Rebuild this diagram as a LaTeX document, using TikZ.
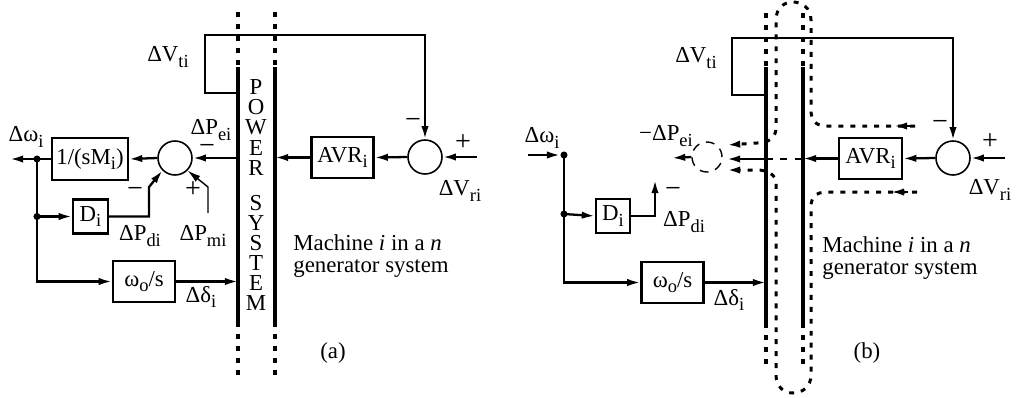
\documentclass[tikz,border=0pt]{standalone}
\usepackage{fontspec}
\setmainfont{Liberation Serif}
\usetikzlibrary{arrows.meta,calc}
\newcommand{\sbs}[1]{\raisebox{-3pt}{\fontsize{10.5}{10.5}\selectfont #1}}
\begin{document}
\begin{tikzpicture}[x=0.02cm,y=-0.02cm,
  font=\fontsize{13}{12}\selectfont,
  lw/.style={line width=1.3pt},
  arr/.style={lw,-{Latex[length=7.5pt,width=4.2pt]}},
  thinarr/.style={line width=0.8pt,-{Latex[length=7.5pt,width=4.2pt]}},
  blk/.style={draw,line width=1.3pt,inner sep=0pt,minimum height=0.82cm},
  sumc/.style={draw,circle,line width=0.9pt,inner sep=0pt,minimum size=0.68cm},
  dsum/.style={draw,circle,line width=0.8pt,dash pattern=on 5pt off 4pt,inner sep=0pt,minimum size=0.6cm},
  dotn/.style={circle,fill,inner sep=0pt,minimum size=4pt},
  lbl/.style={inner sep=0pt},
  sgn/.style={inner sep=0pt,font=\fontsize{16}{16}\selectfont},
  bar/.style={line width=2.5pt},
  dotbar/.style={line width=1.9pt,dash pattern=on 2.8pt off 4pt},
  loopst/.style={line width=1.7pt,dash pattern=on 2.8pt off 4pt},
  hdash/.style={line width=1.5pt,dash pattern=on 4pt off 4.2pt},
  vert/.style={lbl,align=center,font=\fontsize{13}{11.4}\selectfont},
  mach/.style={lbl,align=left,anchor=west,font=\fontsize{13}{12}\selectfont},
]
\useasboundingbox (0,0) rectangle (1018,397);

% ================= (a) =================
\node[blk,minimum width=1.52cm,minimum height=0.84cm] (smA) at (90,159) {1/(sM\sbs{i})};
\node[blk,minimum width=0.70cm,minimum height=0.68cm] (dA) at (90.5,216.5) {D\sbs{i}};
\node[blk,minimum width=1.24cm] (wA) at (144,281.5) {ω\sbs{o}/s};
\node[blk,minimum width=1.24cm] (avrA) at (342.5,157.5) {AVR\sbs{i}};
\node[sumc] (s1A) at (175,158) {};
\node[sumc] (s2A) at (425,157) {};
\node[dotn] (jA1) at (37,159) {};
\node[dotn] (jA2) at (37,216.5) {};

\coordinate (aLt) at (238,67);  \coordinate (aLb) at (238,322);
\coordinate (aRt) at (275,67);  \coordinate (aRb) at (275,322);
\coordinate (aLtop) at (238,12); \coordinate (aLbot) at (238,378);
\coordinate (aRtop) at (275,12); \coordinate (aRbot) at (275,378);
\draw[bar] (aLt) -- (aLb);
\draw[bar] (aRt) -- (aRb);
\draw[dotbar] (aLtop) -- (aLt);
\draw[dotbar] (aLb) -- (aLbot);
\draw[dotbar] (aRtop) -- (aRt);
\draw[dotbar] (aRb) -- (aRbot);

\coordinate (outA) at (10,159);
\coordinate (kdA) at (149,187);
\coordinate (pmA) at (208,213);
\coordinate (kmA) at (208,187);
\coordinate (vtA1) at (205,93);
\coordinate (vtA2) at (205,35);
\coordinate (vrA) at (477,157);

\draw[arr] (s1A.west) -- (smA.east);
\draw[arr] (smA.west) -- (outA);
\draw[arr] (jA1.center) |- (wA.west);
\draw[arr] (jA2.center) -- (dA.west);
\draw[arr] (dA.east) -| (kdA) -- (s1A.225);
\draw[thinarr] (pmA) -- (kmA) -- (s1A.-45);
\draw[arr] (s1A.east -| aLt) -- (s1A.east);
\draw[arr] (wA.east) -- (wA.east -| aLt);
\draw[arr] (vtA1 -| aLt) -- (vtA1) -- (vtA2) -| (s2A.north);
\draw[arr] (s2A.west) -- (avrA.east);
\draw[arr] (avrA.west) -- (avrA.west -| aRt);
\draw[arr] (vrA) -- (s2A.east);

\node[vert] (pwA) at (256,127.5) {P\\O\\W\\E\\R};
\node[vert] (syA) at (256,253) {S\\Y\\S\\T\\E\\M};

\node[lbl] (lvtA) at (168,57) {ΔV\sbs{ti}};
\node[lbl] (lwA) at (26,137) {Δω\sbs{i}};
\node[lbl] (lpeA) at (211,130) {ΔP\sbs{ei}};
\node[sgn] (mpeA) at (207,149) {−};
\node[sgn] (mpdA) at (135,192) {−};
\node[sgn] (ppmA) at (193,190) {+};
\node[lbl] (lpdA) at (140,236) {ΔP\sbs{di}};
\node[lbl] (lpmA) at (203,236) {ΔP\sbs{mi}};
\node[lbl] (ldA) at (201,297) {Δδ\sbs{i}};
\node[sgn] (mvA) at (413,123) {−};
\node[sgn] (pvA) at (463,143) {+};
\node[lbl] (lvrA) at (460,191) {ΔV\sbs{ri}};
\node[mach] (machA) at (293,256) {Machine \textit{i} in a \textit{n}\\generator system};
\node[lbl] (capA) at (333,353) {(a)};

% ================= (b) =================
\node[blk,minimum width=0.68cm,minimum height=0.68cm] (dB) at (613,216) {D\sbs{i}};
\node[blk,minimum width=1.24cm] (wB) at (672.5,282.5) {ω\sbs{o}/s};
\node[blk,minimum width=1.26cm] (avrB) at (870.5,158.5) {AVR\sbs{i}};
\node[sumc] (s2B) at (953,158) {};
\node[dsum] (s1B) at (707,157) {};
\node[dotn] (jB1) at (564,155) {};
\node[dotn] (jB2) at (564,214) {};

\coordinate (bLt) at (766,67);  \coordinate (bLb) at (766,323);
\coordinate (bRt) at (803,67);  \coordinate (bRb) at (803,323);
\coordinate (bLtop) at (766,13); \coordinate (bLbot) at (766,365);
\coordinate (bRtop) at (803,13); \coordinate (bRbot) at (803,365);
\draw[bar] (bLt) -- (bLb);
\draw[bar] (bRt) -- (bRb);
\draw[dotbar] (bLtop) -- (bLt);
\draw[dotbar] (bLb) -- (bLbot);
\draw[dotbar] (bRtop) -- (bRt);
\draw[dotbar] (bRb) -- (bRbot);

\coordinate (inB) at (528,155);
\coordinate (pdB) at (655,180);
\coordinate (vtB1) at (732,95);
\coordinate (vtB2) at (732,38);
\coordinate (vrB) at (1005,158);
\coordinate (pe1) at (727,145);
\coordinate (pe2) at (727,159);
\coordinate (pe3) at (727,170);
\coordinate (peo) at (672,158);

\draw[arr] (inB) -- (jB1);
\draw[arr] (jB1.center) |- (wB.west);
\draw[arr] (jB2.center) -- (dB.west);
\draw[arr] (dB.east) -| (pdB);
\draw[arr] (wB.east) -- (wB.east -| bLt);
\draw[arr] (vtB1 -| bLt) -- (vtB1) -- (vtB2) -| (s2B.north);
\draw[arr] (s2B.west) -- (avrB.east);
\draw[arr] (avrB.west) -- (avrB.west -| bRt);
\draw[arr] (vrB) -- (s2B.east);
\draw[hdash] (pe2 -| bLt) -- (pe2 -| bRt);
\draw[arr] (pe2 -| bLt) -- (pe2);
\draw[arr] (s1B.west) -- (peo);

% dotted signal loop round the power system
\coordinate (lt0) at (915,126);
\coordinate (lb0) at (917,192);
\draw[loopst,-{Latex[length=7.5pt,width=4.2pt]}] (lt0) -- (827,126)
  .. controls (815,126) and (811,120) .. (811,110) -- (811,20)
  .. controls (811,8) and (802,2) .. (793,2)
  .. controls (784,2) and (776,8) .. (776,20) -- (776,128)
  .. controls (776,138) and (768,143) .. (757,143) -- (pe1);
\draw[loopst,-{Latex[length=7.5pt,width=4.2pt]}] (lb0) -- (827,192)
  .. controls (815,192) and (811,198) .. (811,207) -- (811,375)
  .. controls (811,387) and (802,393) .. (793,393)
  .. controls (784,393) and (776,387) .. (776,375) -- (776,183)
  .. controls (776,175) and (768,170) .. (757,170) -- (pe3);
\coordinate (at1) at (910,126); \coordinate (at2) at (894,126);
\coordinate (ab1) at (908,192); \coordinate (ab2) at (891,192);
\draw[lw,-{Latex[length=7.5pt,width=4.2pt]}] (at1) -- (at2);
\draw[lw,-{Latex[length=7.5pt,width=4.2pt]}] (ab1) -- (ab2);

\node[lbl] (lvtB) at (696,58) {ΔV\sbs{ti}};
\node[lbl] (lwB) at (542,138) {Δω\sbs{i}};
\node[lbl] (lpeB) at (666,136) {−ΔP\sbs{ei}};
\node[sgn] (mpdB) at (673,192) {−};
\node[lbl] (lpdB) at (684,222) {ΔP\sbs{di}};
\node[lbl] (ldB) at (729,300) {Δδ\sbs{i}};
\node[sgn] (mvB) at (940,125) {−};
\node[sgn] (pvB) at (990,142) {+};
\node[lbl] (lvrB) at (990,190) {ΔV\sbs{ri}};
\node[mach] (machB) at (822,258) {Machine \textit{i} in a \textit{n}\\generator system};
\node[lbl] (capB) at (867,353) {(b)};
\end{tikzpicture}
\end{document}
